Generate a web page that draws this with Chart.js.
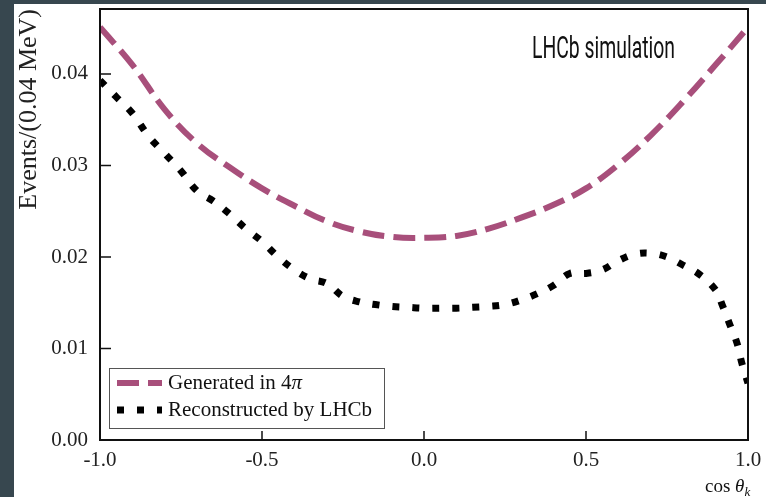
<!DOCTYPE html>
<html>
<head>
<meta charset="utf-8">
<script src="https://cdn.jsdelivr.net/npm/chart.js@4.4.0/dist/chart.umd.min.js"></script>
<style>
  body { margin: 0; background: #37474f; width: 766px; height: 497px; overflow: hidden; }
  #wrap { position: absolute; left: 14px; top: 4px; width: 752px; height: 493px; background: #fff; }
</style>
</head>
<body>
<div id="wrap"><canvas id="myChart" width="752" height="493"></canvas></div>
<script>
// values
const genX = [-1.0, -0.9, -0.8, -0.7, -0.6, -0.5, -0.4, -0.3, -0.2, -0.1, 0.0,
  0.1, 0.2, 0.3, 0.4, 0.5, 0.6, 0.7, 0.8, 0.9, 1.0];
const genY = [0.0451, 0.0410, 0.0361, 0.0324, 0.0298, 0.0275, 0.0256, 0.0239, 0.0228, 0.0222, 0.0221,
  0.0223, 0.0231, 0.0243, 0.0257, 0.0275, 0.0301, 0.0333, 0.0370, 0.0410, 0.0451];

const recoX = [-1.0, -0.95, -0.9, -0.85, -0.8, -0.75, -0.7, -0.65, -0.6, -0.55, -0.5,
  -0.45, -0.4, -0.35, -0.3, -0.25, -0.2, -0.15, -0.1, -0.05, 0.0,
  0.05, 0.1, 0.15, 0.2, 0.25, 0.3, 0.35, 0.4, 0.45, 0.5,
  0.55, 0.6, 0.65, 0.7, 0.75, 0.8, 0.85, 0.9, 0.92, 0.944, 0.966, 0.981, 1.0];
const recoY = [0.0393, 0.0375, 0.0357, 0.0332, 0.0313, 0.0294, 0.0272, 0.0261, 0.0247, 0.0231, 0.0217,
  0.0200, 0.0186, 0.0176, 0.0171, 0.0157, 0.0151, 0.0148, 0.0146, 0.0145, 0.0144,
  0.0144, 0.0144, 0.0145, 0.0146, 0.0148, 0.0153, 0.0160, 0.0169, 0.0182, 0.0182,
  0.0186, 0.0196, 0.0203, 0.0204, 0.0200, 0.0191, 0.0181, 0.0164, 0.0148, 0.0126, 0.0106, 0.0084, 0.0062];

const seriesNames = ["Generated in 4", "Reconstructed by LHCb"];
const yTicks = [0, 0.01, 0.02, 0.03, 0.04];
const xTicks = [-1, -0.5, 0, 0.5, 1];

const purple = "#a84f7b";
const serif = "'Liberation Serif', 'Times New Roman', serif";

function toPoints(xs, ys) {
  return xs.map((x, i) => ({ x: x, y: ys[i] }));
}

// frame, inward ticks, legend box and text labels
const decorations = {
  id: "decorations",
  afterDraw(chart) {
    const { ctx, chartArea: a, scales } = chart;
    ctx.save();
    ctx.strokeStyle = "#111";
    ctx.lineWidth = 2;
    ctx.strokeRect(a.left, a.top, a.right - a.left, a.bottom - a.top);

    ctx.lineWidth = 1.5;
    ctx.beginPath();
    yTicks.forEach((v) => {
      const p = scales.y.getPixelForValue(v);
      ctx.moveTo(a.left, p);
      ctx.lineTo(a.left + 11, p);
    });
    xTicks.forEach((v) => {
      const p = scales.x.getPixelForValue(v);
      ctx.moveTo(p, a.bottom);
      ctx.lineTo(p, a.bottom - 9);
    });
    ctx.stroke();

    // legend
    ctx.fillStyle = "#fff";
    ctx.fillRect(95, 364, 275, 60);
    ctx.strokeStyle = "#555";
    ctx.lineWidth = 1;
    ctx.strokeRect(95.5, 364.5, 275, 60);

    const ds = chart.data.datasets;
    [379, 406].forEach((y, i) => {
      ctx.strokeStyle = ds[i].borderColor;
      ctx.lineWidth = ds[i].borderWidth;
      ctx.setLineDash(ds[i].borderDash);
      ctx.beginPath();
      ctx.moveTo(103, y);
      ctx.lineTo(148, y);
      ctx.stroke();
    });
    ctx.setLineDash([]);

    ctx.fillStyle = "#111";
    ctx.textBaseline = "middle";
    ctx.font = "21px " + serif;
    ctx.fillText(seriesNames[0], 154, 379);
    const w = ctx.measureText(seriesNames[0]).width;
    ctx.font = "italic 21px " + serif;
    ctx.fillText("\u03c0", 154 + w, 379);
    ctx.font = "21px " + serif;
    ctx.fillText(seriesNames[1], 154, 406);

    // experiment label
    ctx.textBaseline = "alphabetic";
    ctx.font = "32px 'Liberation Sans Narrow', 'Roboto', sans-serif";
    ctx.fillText("LHCb simulation", 518, 54, 143);

    // x axis title: cos theta_k
    ctx.font = "19px " + serif;
    ctx.fillText("cos", 691, 488);
    let x = 691 + ctx.measureText("cos ").width;
    ctx.font = "italic 19px " + serif;
    ctx.fillText("\u03b8", x, 488);
    x += ctx.measureText("\u03b8").width;
    ctx.font = "italic 13px " + serif;
    ctx.fillText("k", x, 492);
    ctx.restore();
  },
};

const ctx = document.getElementById("myChart").getContext("2d");
const myChart = new Chart(ctx, {
  type: "line",
  data: {
    datasets: [
      {
        label: seriesNames[0],
        data: toPoints(genX, genY),
        borderColor: purple,
        borderWidth: 6,
        borderDash: [22, 9],
        borderCapStyle: "butt",
        pointRadius: 0,
        tension: 0.4,
      },
      {
        label: seriesNames[1],
        data: toPoints(recoX, recoY),
        borderColor: "#000",
        borderWidth: 7,
        borderDash: [7, 13],
        borderCapStyle: "butt",
        pointRadius: 0,
        tension: 0.4,
      },
    ],
  },
  options: {
    responsive: false,
    animation: false,
    layout: { padding: { top: 5, right: 18, bottom: 0, left: 0 } },
    plugins: { legend: { display: false }, tooltip: { enabled: false } },
    scales: {
      x: {
        type: "linear",
        min: -1,
        max: 1,
        grid: { display: false, drawTicks: false },
        border: { display: false },
        afterBuildTicks: (s) => { s.ticks = xTicks.map((v) => ({ value: v })); },
        afterFit: (s) => { s.height = 57; s.paddingLeft = 0; s.paddingRight = 0; },
        ticks: {
          padding: 8,
          color: "#222",
          font: { family: serif, size: 21 },
          maxRotation: 0,
          autoSkip: false,
          callback: (v) => Number(v).toFixed(1),
        },
      },
      y: {
        type: "linear",
        min: 0,
        max: 0.0471,
        grid: { display: false, drawTicks: false },
        border: { display: false },
        afterBuildTicks: (s) => { s.ticks = yTicks.map((v) => ({ value: v })); },
        afterFit: (s) => { s.width = 86; s.paddingTop = 0; s.paddingBottom = 0; },
        ticks: {
          padding: 12,
          color: "#222",
          font: { family: serif, size: 21 },
          callback: (v) => Number(v).toFixed(2),
        },
        title: {
          display: true,
          text: "Events/(0.04 MeV)",
          align: "end",
          color: "#222",
          font: { family: serif, size: 26 },
          padding: { top: 0, bottom: 0 },
        },
      },
    },
  },
  plugins: [decorations],
});
</script>
</body>
</html>
